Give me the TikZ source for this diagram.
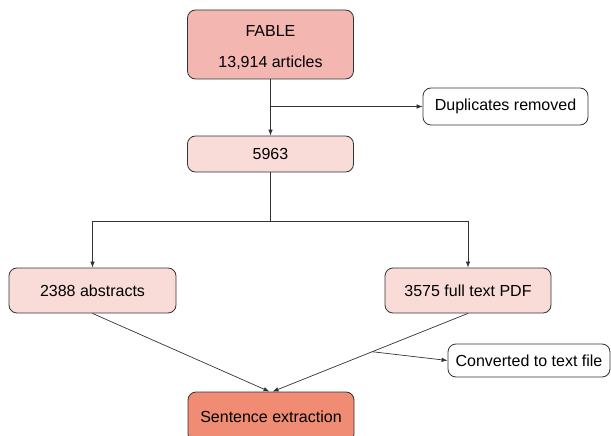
\documentclass[tikz,border=0pt]{standalone}
\usepackage{fontspec}
\setmainfont{Liberation Sans}
\usetikzlibrary{arrows.meta}
\definecolor{fablered}{HTML}{F4B6B0}
\definecolor{stagepink}{HTML}{F9DCD8}
\definecolor{extractred}{HTML}{F08C74}
\definecolor{edgegray}{HTML}{333333}
\tikzset{
  box/.style={draw=edgegray, line width=0.8pt, rounded corners=8pt, align=center,
    font=\fontsize{16}{18}\selectfont, inner sep=0pt},
  stage/.style={box, fill=stagepink},
  note/.style={box, fill=white},
  >={Latex[length=6pt,width=4.5pt]}
}
\begin{document}
\begin{tikzpicture}[x=1pt,y=-1pt, line width=0.7pt]
  \useasboundingbox (0,0) rectangle (611,436);
  \node[box, fill=fablered, minimum width=166pt, minimum height=69pt] (fable) at (270.5,44.5)
    {\rule{0pt}{18pt}FABLE\\[13pt]13,914 articles};
  \node[note, minimum width=165pt, minimum height=37pt] (dup) at (505.5,106.5) {Duplicates removed};
  \node[stage, minimum width=166pt, minimum height=36pt] (total) at (270.5,154) {5963};
  \node[stage, minimum width=167pt, minimum height=45pt] (abs) at (92.5,290.5) {2388 abstracts};
  \node[stage, minimum width=166pt, minimum height=45pt] (pdf) at (468,290.5) {3575 full text PDF};
  \node[note, minimum width=162pt, minimum height=33pt] (conv) at (529,360.5) {Converted to text file};
  \node[box, fill=extractred, minimum width=166pt, minimum height=50pt] (sent) at (271,417) {Sentence extraction};
  \coordinate (split1) at (fable.south |- dup.west);
  \coordinate (split2) at (270.5,221);
  \draw [->, edgegray] (fable) to (total);
  \draw [->, edgegray] (split1) to (dup);
  \draw [edgegray] (total) to (split2);
  \draw [->, edgegray] (split2 -| abs) to (abs);
  \draw [->, edgegray] (split2 -| abs) to (split2 -| pdf) to (pdf);
  \draw [->, edgegray] (abs.south) to ([xshift=-1.5pt]sent.north);
  \draw [->, edgegray] (pdf.south) to coordinate[pos=0.49] (split3) ([xshift=1.5pt]sent.north);
  \draw [->, edgegray] (split3) to (conv.west);
\end{tikzpicture}
\end{document}
